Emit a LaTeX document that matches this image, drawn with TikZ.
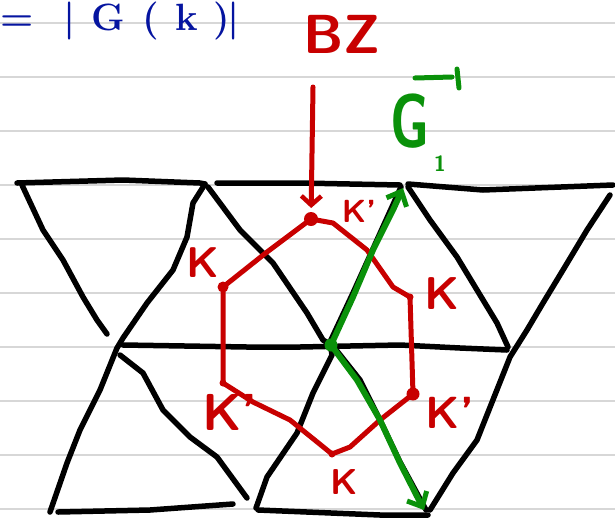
\documentclass[tikz,border=0pt]{standalone}
\usetikzlibrary{arrows.meta}
\definecolor{inkred}{RGB}{200,0,0}
\definecolor{inkgreen}{RGB}{10,145,10}
\definecolor{inkblue}{RGB}{5,20,160}
\definecolor{ruleg}{RGB}{215,215,215}
\begin{document}
\begin{tikzpicture}[x=1pt,y=-1pt,
  lat/.style={line width=5.5pt, line cap=round, line join=round, black},
  bzline/.style={line width=5pt, line cap=round, line join=round, inkred},
  gvec/.style={line width=6pt, line cap=round, line join=round, inkgreen},
  rulel/.style={line width=2.5pt, ruleg},
  lbl/.style={inkred, inner sep=0pt},
  ]
\useasboundingbox (0,0) rectangle (615,520);
\clip (0,0) rectangle (615,520);
\fill[white] (0,0) rectangle (615,520);
\foreach \y in {23,77,...,509} \draw[rulel] (0,\y) -- (615,\y);

% blue formula at the top
\node[inkblue, anchor=base west, inner sep=0pt, font=\bfseries\fontsize{38}{38}\selectfont] (formula) at (0,30)
  {=\hspace{30pt}|\hspace{16pt}G\hspace{17pt}(\hspace{17pt}k\hspace{15pt})\hspace{-3pt}|};

% lattice
\draw[lat] (17,183) -- (123,180) -- (200,183) -- (205,184);
\draw[lat] (217,183) -- (300,183) -- (400,185);
\draw[lat] (408,184) -- (483,190) -- (613,185);
\draw[lat] (22,185) -- (43,230) -- (63,260) -- (83,297) -- (97,320) -- (107,334);
\draw[lat] (205,184) -- (193,203) -- (187,237) -- (173,270) -- (147,303) -- (123,338) -- (117,348)
           -- (100,390) -- (80,430) -- (67,463) -- (50,512);
\draw[lat] (208,187) -- (240,230) -- (273,263) -- (307,313) -- (323,340) -- (333,346)
           -- (360,380) -- (380,420) -- (400,462) -- (426,510);
\draw[lat] (401,187) -- (377,240) -- (353,293) -- (330,342) -- (332,355) -- (313,393)
           -- (297,433) -- (267,477) -- (256,508);
\draw[lat] (408,187) -- (430,220) -- (457,257) -- (477,290) -- (497,323) -- (508,347);
\draw[lat] (610,195) -- (587,230) -- (563,270) -- (543,303) -- (527,330) -- (510,357)
           -- (477,440) -- (453,473) -- (430,510);
\draw[lat] (123,345) -- (247,347) -- (300,347) -- (400,345) -- (460,348) -- (507,350);
\draw[lat] (120,355) -- (143,373) -- (163,410) -- (190,437) -- (217,457) -- (247,498);
\draw[lat] (58,512) -- (150,510) -- (233,504);
\draw[lat] (258,510) -- (380,515) -- (428,515);

% Brillouin zone
\coordinate (hT) at (311,219);
\coordinate (hUL) at (223,287);
\coordinate (hLL) at (223,383);
\coordinate (hB) at (332,454);
\coordinate (hLR) at (413,394);
\coordinate (hUR) at (410,297);
\draw[bzline] (hT) -- (267,252) -- (hUL) -- (hLL) -- (253,402) -- (290,420) -- (hB)
   -- (350,447) -- (380,420) -- (hLR) -- (hUR) -- (393,287) -- (367,250) -- (333,223) -- cycle;
\fill[inkred] (hT) circle (7pt);
\fill[inkred] (hUL) circle (5.5pt);
\fill[inkred] (hLR) circle (6.5pt);
\fill[inkred] (hLL) circle (3.5pt);
\fill[inkred] (hB) circle (3.5pt);
\fill[inkred] (hUR) circle (3.5pt);

\node[lbl, font=\bfseries\sffamily\fontsize{55}{55}\selectfont] (bzlabel) at (342,34) {BZ};
\coordinate (bzs) at (313,87);
\draw[bzline, shorten >=11pt, -{Straight Barb[length=9pt,width=20pt,line width=4.5pt]}] (bzs) -- (hT);

\node[lbl, font=\bfseries\sffamily\fontsize{32}{32}\selectfont] (k1) at (359,211) {K'};
\node[lbl, font=\bfseries\sffamily\fontsize{43}{43}\selectfont] (k2) at (203,263) {K};
\node[lbl, font=\bfseries\sffamily\fontsize{46}{46}\selectfont] (k3) at (442,294) {K};
\node[lbl, font=\bfseries\sffamily\fontsize{52}{52}\selectfont] (k4) at (230,412) {K'};
\node[lbl, font=\bfseries\sffamily\fontsize{45}{45}\selectfont] (k5) at (450,413) {K'};
\node[lbl, font=\bfseries\sffamily\fontsize{36}{36}\selectfont] (k6) at (344,482) {K};

% reciprocal lattice vector
\coordinate (g0) at (331,345);
\coordinate (gTop) at (403,188);
\coordinate (gBot) at (424,510);
\draw[gvec, -{Straight Barb[length=12pt,width=22pt,line width=5pt]}]
   (g0) -- (353,297) -- (373,250) -- (393,210) -- (gTop);
\draw[gvec, -{Straight Barb[length=12pt,width=22pt,line width=5pt]}]
   (g0) -- (357,380) -- (380,420) -- (400,463) -- (gBot);
\fill[inkgreen] (g0) circle (6.5pt);

\node[inkgreen, inner sep=0pt, font=\bfseries\sffamily\fontsize{76}{76}\selectfont] (glabel) at (410,121) {\scalebox{0.7}[1]{G}};
\node[inkgreen, inner sep=0pt, font=\bfseries\sffamily\fontsize{22}{22}\selectfont] (gsub) at (440,164) {1};
\draw[gvec, line width=5pt] (415,78) -- (452,77);
\draw[gvec, line width=5pt] (457,69) -- (459,88);
\end{tikzpicture}
\end{document}
